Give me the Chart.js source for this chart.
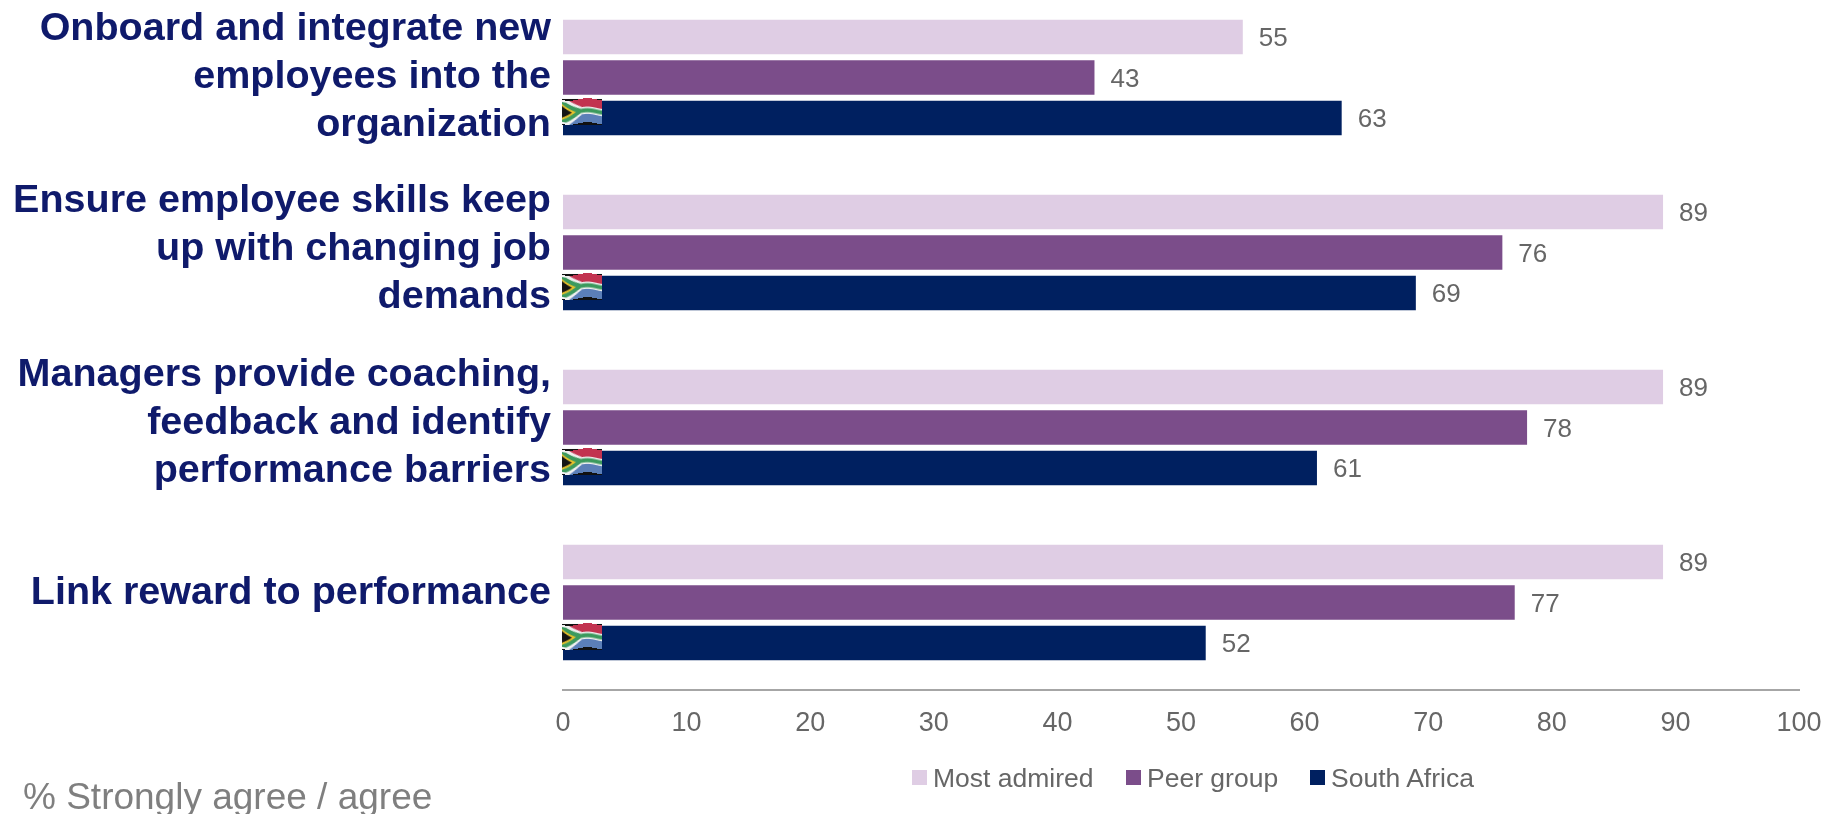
<!DOCTYPE html>
<html>
<head>
<meta charset="utf-8">
<style>
  html, body { margin: 0; padding: 0; background: #fff; }
  #wrap { position: relative; width: 1829px; height: 814px; overflow: hidden; font-family: "Liberation Sans"; }
  #chart { position: absolute; left: 0; top: -12px; }
  #note { position: absolute; left: 23px; top: 776px; font-size: 37px; color: #7f7f7f; white-space: nowrap; }
  #legend { position: absolute; left: 0; top: 763px; font-size: 26.5px; line-height: 30px; color: #666; }
  #legend span { position: absolute; white-space: nowrap; }
  #legend i { position: absolute; left: -21px; top: 7px; width: 15px; height: 15px; }
</style>
<script src="https://cdn.jsdelivr.net/npm/chart.js@4"></script>
</head>
<body>
<div id="wrap">
  <canvas id="chart" width="1829" height="826"></canvas>
  <div id="legend"></div>
  <div id="note">% Strongly agree / agree</div>
</div>
<script>
const categories = [
  ["Onboard and integrate new", "employees into the", "organization"],
  ["Ensure employee skills keep", "up with changing job", "demands"],
  ["Managers provide coaching,", "feedback and identify", "performance barriers"],
  ["Link reward to performance"]
];
const mostAdmired = [55, 89, 89, 89];
const peerGroup = [43, 76, 78, 77];
const southAfrica = [63, 69, 61, 52];
const xTicks = [0, 10, 20, 30, 40, 50, 60, 70, 80, 90, 100];

// the labels don't sit quite centred on their groups in the original
const labelShift = [0, -3, -4, -9];
const legendX = [933, 1147, 1331];

// ---------- FLAG ----------
function makeFlag() {
  const c = document.createElement("canvas");
  c.width = 40; c.height = 23;
  const g = c.getContext("2d");
  const poly = (color, pts) => {
    g.fillStyle = color;
    g.beginPath();
    pts.forEach(p => g.lineTo(p[0], p[1]));
    g.fill();
  };
  g.fillStyle = "#c23350"; g.fillRect(0, 0, 40, 11.5);
  g.fillStyle = "#5b7fb8"; g.fillRect(0, 11.5, 40, 11.5);
  poly("#f1f1f1", [[0, 0], [7, 0], [20, 8], [40, 8], [40, 15], [20, 15], [7, 23], [0, 23]]);
  poly("#3c9a5e", [[0, 2], [4, 2], [19, 9.5], [40, 9.5], [40, 13.5], [19, 13.5], [4, 21], [0, 21]]);
  poly("#e6c02c", [[0, 4], [14, 11.5], [0, 19]]);
  poly("#151515", [[0, 6], [10, 11.5], [0, 17]]);
  return c;
}
const flag = makeFlag();

function drawFlag(ctx, x, y) {
  ctx.fillStyle = "#111";
  ctx.fillRect(x, y + 1, 40, 26);
  // wave it, one column at a time
  for (let i = 0; i < 40; i++) {
    const dy = 1.5 + 1.3 * Math.sin(i / 40 * Math.PI * 2.2 + 0.4);
    ctx.drawImage(flag, i, 0, 1, 23, x + i, y + dy, 1, 24);
  }
}

// ---------- PLUGIN ----------
const barExtras = {
  id: "barExtras",
  afterDatasetsDraw(chart) {
    const ctx = chart.ctx;
    const yAxis = chart.scales.y;
    ctx.save();

    // value labels
    ctx.font = '26px "Liberation Sans"';
    ctx.fillStyle = "#666";
    ctx.textBaseline = "middle";
    ctx.textAlign = "left";
    chart.data.datasets.forEach((ds, i) => {
      chart.getDatasetMeta(i).data.forEach((bar, j) => {
        ctx.fillText(ds.data[j], bar.x + 16, bar.y + 2);
      });
    });

    // flags
    chart.getDatasetMeta(2).data.forEach(bar => {
      drawFlag(ctx, chart.scales.x.left - 1, bar.y - 20);
    });

    // category labels
    ctx.font = 'bold 39.5px "Liberation Sans"';
    ctx.fillStyle = "#0f1a6b";
    ctx.textAlign = "right";
    categories.forEach((lines, i) => {
      const mid = yAxis.getPixelForTick(i) + labelShift[i];
      lines.forEach((line, k) => {
        ctx.fillText(line, yAxis.right - 12, mid + (k - (lines.length - 1) / 2) * 48);
      });
    });
    ctx.restore();
  }
};

// ---------- CHART ----------
const chart = new Chart(document.getElementById("chart"), {
  type: "bar",
  data: {
    labels: categories,
    datasets: [
      { label: "Most admired", data: mostAdmired, backgroundColor: "#dfcde4" },
      { label: "Peer group", data: peerGroup, backgroundColor: "#7b4d8a" },
      { label: "South Africa", data: southAfrica, backgroundColor: "#002060" }
    ]
  },
  options: {
    indexAxis: "y",
    responsive: false,
    animation: false,
    maintainAspectRatio: false,
    layout: { padding: { top: 2, right: 30, bottom: 0, left: 0 } },
    datasets: { bar: { categoryPercentage: 0.694, barPercentage: 0.85 } },
    scales: {
      x: {
        min: 0, max: 100,
        afterBuildTicks(axis) { axis.ticks = xTicks.map(v => ({ value: v })); },
        afterFit(axis) {
          axis.height = 124;
          axis.paddingLeft = 0;
          axis.paddingRight = 0;
        },
        grid: { display: false, drawTicks: false },
        border: { color: "#a6a6a6", width: 2 },
        ticks: { color: "#666", font: { size: 27, family: "Liberation Sans" }, padding: 17, maxRotation: 0 }
      },
      y: {
        afterFit(axis) { axis.width = 563; },
        grid: { display: false, drawTicks: false },
        border: { display: false },
        ticks: { display: false }
      }
    },
    plugins: {
      tooltip: { enabled: false },
      legend: { display: false }
    }
  },
  plugins: [barExtras]
});

// ---------- LEGEND ----------
const legend = document.getElementById("legend");
chart.data.datasets.forEach((ds, i) => {
  const item = document.createElement("span");
  item.style.left = legendX[i] + "px";
  item.innerText = ds.label;
  const box = document.createElement("i");
  box.style.background = ds.backgroundColor;
  item.appendChild(box);
  legend.appendChild(item);
});
</script>
</body>
</html>
